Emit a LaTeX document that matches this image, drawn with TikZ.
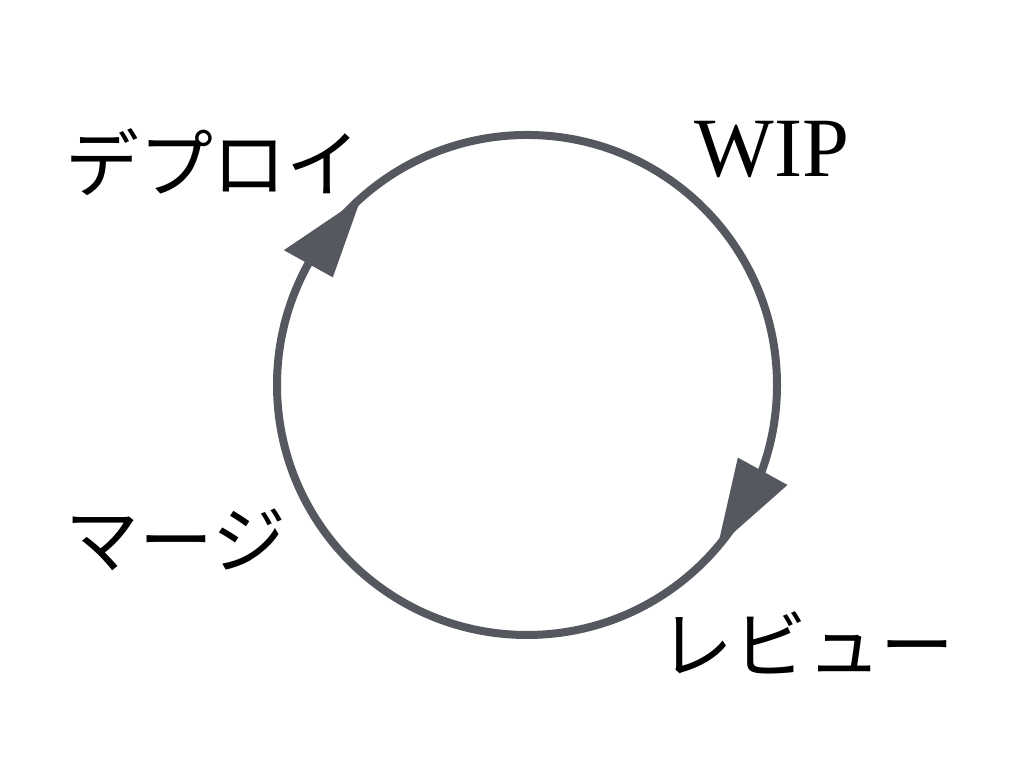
\documentclass[tikz,border=0pt]{standalone}
\usepackage{fontspec}
\setmainfont{Liberation Serif}
\newfontfamily\jpfont{Noto Sans CJK JP}
\usetikzlibrary{calc}
\definecolor{cyclegray}{HTML}{55585F}
\tikzset{
  label jp/.style={font=\jpfont\fontsize{21}{25}\selectfont, inner sep=0pt},
  label en/.style={font=\fontsize{24}{28}\selectfont, inner sep=0pt},
  tip/.style={fill=cyclegray}
}
\begin{document}
\begin{tikzpicture}[x=0.01cm,y=0.01cm]
  \useasboundingbox (0,0) rectangle (1024,768);
  \coordinate (c) at (527,383);
  \draw [cyclegray, line width=0.08cm] (c) circle (250);
  % arrow heads, clockwise
  \fill [tip] ($(c)+(131.6:250)$) -- ($(c)+(151:222)$) -- ($(c)+(151:278)$) -- cycle;
  \fill [tip] ($(c)+(-40.3:250)$) -- ($(c)+(-19:223)$) -- ($(c)+(-21:279)$) -- cycle;

  \node [label jp] (deploy) at (213,606) {デプロイ};
  \node [label en] (wip) at (772,618) {WIP};
  \node [label jp] (merge) at (176,228) {マージ};
  \node [label jp] (review) at (807,125) {レビュー};
\end{tikzpicture}
\end{document}
